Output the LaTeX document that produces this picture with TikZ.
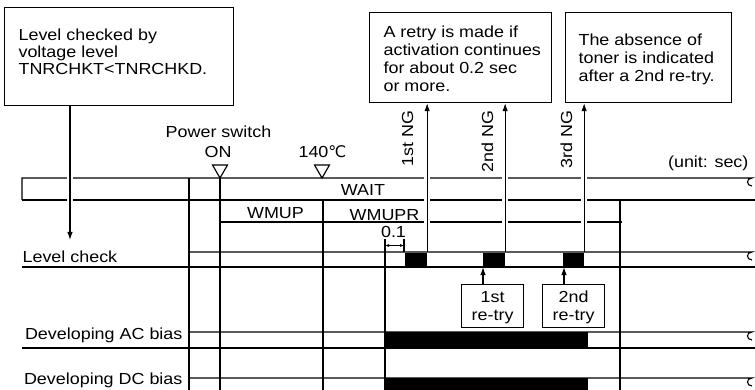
\documentclass[tikz,border=0pt]{standalone}
\usepackage{fontspec}
\setmainfont{Liberation Sans}[FakeStretch=1.12]
\newfontfamily\dejavu{DejaVu Sans}[FakeStretch=1.0]
\usetikzlibrary{arrows.meta}
\begin{document}
\begin{tikzpicture}[x=1pt,y=-1pt, line width=1.15pt,
  font=\fontsize{16}{18}\selectfont,
  box/.style={draw, inner sep=0pt, anchor=north west},
  txt/.style={inner sep=0pt, align=left, anchor=north west},
  arr/.style={-{Latex[length=8pt,width=5.5pt]}},
  gap/.style={preaction={draw=white, line width=6pt, -, shorten >=10pt}},
  blk/.style={fill=black, draw=none, inner sep=0pt, minimum height=15pt, anchor=north west},
  lbl/.style={inner sep=0pt},
  retry/.style={draw, inner sep=0pt, minimum width=62pt, minimum height=43pt, anchor=north west},
  dim/.style={{Latex[length=4pt,width=3pt]}-{Latex[length=4pt,width=3pt]}, line width=0.7pt}
]
\useasboundingbox (0,0) rectangle (755,390);
\clip (0,0) rectangle (755,390);

% explanation boxes
\node[box, minimum width=229pt, minimum height=98pt] (b1) at (4,7) {};
\node[txt, font=\fontsize{16}{17}\selectfont] (t1) at (18,28.5) {Level checked by\\voltage level\\TNRCHKT<TNRCHKD.};
\node[box, minimum width=182pt, minimum height=90pt] (b2) at (369,12) {};
\node[txt] (t2) at (383,25.5) {A retry is made if\\activation continues\\for about 0.2 sec\\or more.};
\node[box, minimum width=166pt, minimum height=90pt] (b3) at (565,12) {};
\node[txt] (t3) at (578,33.5) {The absence of\\toner is indicated\\after a 2nd re-try.};

% event labels
\node[lbl, anchor=base] (ps) at (218.5,137.5) {Power switch};
\node[lbl, anchor=base] (on) at (218,158) {ON};
\node[lbl, anchor=base] (tc) at (322.5,158) {140{\dejavu ℃}};
\draw (220,178) -- (212.5,165) -- (227.5,165) -- cycle;
\draw (322,178) -- (314.5,165) -- (329.5,165) -- cycle;
\node[lbl, anchor=base east] (unit) at (749,168) {(unit: sec)};

% WAIT row
\draw (22,200) -- (22,178) -- (752,178) .. controls (746,178) and (746,186) .. (752,186);
\draw (22,200) -- (755,200);
\draw (220,222) -- (622,222);
\node[lbl, anchor=base] (wait) at (363,196) {WAIT};
\node[lbl, anchor=base] (wmup) at (275.5,219) {WMUP};
\node[lbl, anchor=base] (wmupr) at (384.5,221) {WMUPR};

% vertical timing lines
\draw (189,178) -- (189,395);
\draw (220,178) -- (220,395);
\draw (323,200) -- (323,395);
\draw (385,239) -- (385,395);
\draw (620,200) -- (620,395);

% level-check blocks
\node[blk, minimum width=22pt] (k1) at (404,252) {};
\node[blk, minimum width=22pt] (k2) at (482,252) {};
\node[blk, minimum width=21pt] (k3) at (562,252) {};

% NG arrows
\draw[arr, gap] (k1.north east) -- (k1.north east |- b2.south);
\draw[arr, gap] (k2.north east) -- (k2.north east |- b2.south);
\draw[arr, gap] (k3.north east) -- (k3.north east |- b3.south);
\node[lbl, rotate=90, anchor=base east] (ng1) at (413,110) {1st NG};
\node[lbl, rotate=90, anchor=base east] (ng2) at (493,110) {2nd NG};
\node[lbl, rotate=90, anchor=base east] (ng3) at (572,110) {3rd NG};

% arrow from box 1
\coordinate (lc) at (70,240);
\draw[arr, gap] (b1.south -| lc) -- (lc);

% level check row
\draw (189,252) -- (752,252) .. controls (746,252) and (746,260) .. (752,260);
\draw (22,267) -- (755,267);
\node[lbl, anchor=base west] (lvl) at (22,262) {Level check};

% 0.1 dimension
\node[lbl, anchor=base] (d01) at (393.5,238) {0.1};
\draw (404,239) -- (404,252);
\coordinate (dl) at (385,245.5);
\coordinate (dr) at (404,245.5);
\draw[dim] (dl) -- (dr);

% retry boxes
\node[retry] (r1) at (461,284) {};
\node[retry] (r2) at (542,284) {};
\node[lbl, anchor=base, align=center] (r1t) at ([yshift=-36.5pt]r1.north) {1st\\re-try};
\node[lbl, anchor=base, align=center] (r2t) at ([yshift=-36.5pt]r2.north) {2nd\\re-try};
\coordinate (a1) at (483,267);
\coordinate (a2) at (564,267);
\draw[arr] (r1.north -| a1) -- (a1);
\draw[arr] (r2.north -| a2) -- (a2);

% developing AC bias
\draw (189,332) -- (752,332) .. controls (746,332) and (746,340) .. (752,340);
\draw (22,348) -- (755,348);
\fill (385,332) rectangle (588,348);
\node[lbl, anchor=base east] (ac) at (183,339.5) {Developing AC bias};

% developing DC bias
\draw (189,378) -- (752,378) .. controls (746,378) and (746,386) .. (752,386);
\fill (385,378) rectangle (588,395);
\node[lbl, anchor=base east] (dc) at (183,384) {Developing DC bias};
\end{tikzpicture}
\end{document}
